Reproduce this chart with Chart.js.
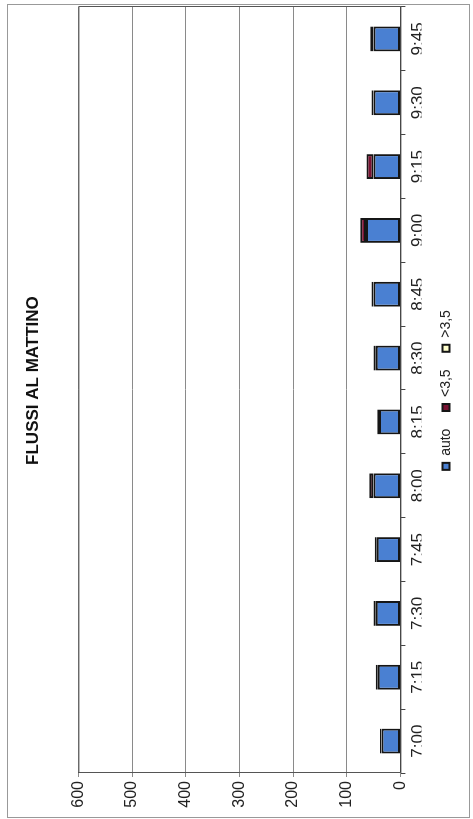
<!DOCTYPE html>
<html>
<head>
<meta charset="utf-8">
<script src="https://cdn.jsdelivr.net/npm/chart.js@4/dist/chart.umd.min.js"></script>
<style>
  html, body { margin: 0; padding: 0; background: #fff; }
  #wrap {
    position: absolute; left: 0; top: 0;
    width: 819px; height: 473px;
    transform-origin: 0 0;
    transform: translateY(819px) rotate(-90deg);
  }
  #frame {
    position: absolute; left: 1px; top: 7px;
    width: 812px; height: 461px;
    border: 1px solid #999;
  }
  #chart { position: absolute; left: 0; top: 0; }
</style>
</head>
<body>
<div id="wrap">
  <div id="frame"></div>
  <canvas id="chart" width="819" height="473"></canvas>
</div>
<script>
// fasce orarie
const orari = ['7:00', '7:15', '7:30', '7:45', '8:00', '8:15', '8:30', '8:45', '9:00', '9:15', '9:30', '9:45'];
// veicoli per fascia
const auto = [35, 42, 46, 44, 50, 40, 46, 50, 64, 50, 50, 50];
const sotto35 = [3, 4, 4, 4, 8, 3, 4, 4, 11, 13, 4, 6];
const sopra35 = [0, 0, 0, 0, 0, 0, 0, 0, 0, 0, 0, 0];
const valori_asse = [0, 100, 200, 300, 400, 500, 600];

const font_nome = 'Liberation Sans, Arial, sans-serif';

// cornice attorno all'area del grafico
const cornice = {
    id: 'cornice',
    afterDraw(chart) {
        const a = chart.chartArea;
        const ctx = chart.ctx;
        ctx.save();
        ctx.strokeStyle = '#555';
        ctx.lineWidth = 1;
        ctx.strokeRect(a.left + 0.5, a.top + 0.5, a.right - a.left, a.bottom - a.top);
        ctx.restore();
    }
};

function serie(nome, dati, colore) {
    return {
        label: nome,
        data: dati,
        backgroundColor: colore,
        borderColor: '#151515',
        borderWidth: 2,
        borderSkipped: false,
        barPercentage: 0.39,
        categoryPercentage: 1
    };
}

const ctx = document.getElementById('chart').getContext('2d');
const grafico = new Chart(ctx, {
    type: 'bar',
    data: {
        labels: orari,
        datasets: [
            serie('auto', auto, '#4a80d2'),
            serie('<3,5', sotto35, '#7a1232'),
            serie('>3,5', sopra35, '#ffffcc')
        ]
    },
    options: {
        responsive: false,
        animation: false,
        layout: { padding: { top: 0, left: 0, right: 7, bottom: 10 } },
        scales: {
            x: {
                stacked: true,
                offset: true,
                grid: { offset: true, drawOnChartArea: false, tickLength: 5, color: '#444' },
                border: { color: '#333' },
                ticks: { font: { family: font_nome, size: 17 }, color: '#222', maxRotation: 0, padding: 3 },
                afterFit: function(scale) { scale.height = 21; }
            },
            y: {
                stacked: true,
                min: valori_asse[0],
                max: valori_asse[valori_asse.length - 1],
                ticks: { stepSize: 100, font: { family: font_nome, size: 16 }, color: '#222', padding: 4 },
                grid: { color: '#8a8a8a', tickLength: 4 },
                border: { color: '#444' },
                afterFit: function(scale) { scale.width = 46; }
            }
        },
        plugins: {
            title: {
                display: true,
                text: '\u00a0\u00a0\u00a0\u00a0FLUSSI AL MATTINO',
                fullSize: false,
                color: '#111',
                font: { family: font_nome, size: 17, weight: 'bold' },
                padding: { top: 23, bottom: 35 }
            },
            legend: {
                position: 'bottom',
                fullSize: false,
                labels: {
                    boxWidth: 7,
                    boxHeight: 7,
                    padding: 17.6,
                    color: '#222',
                    font: { family: font_nome, size: 14 }
                }
            },
            tooltip: { enabled: false }
        }
    },
    plugins: [cornice]
});
</script>
</body>
</html>
